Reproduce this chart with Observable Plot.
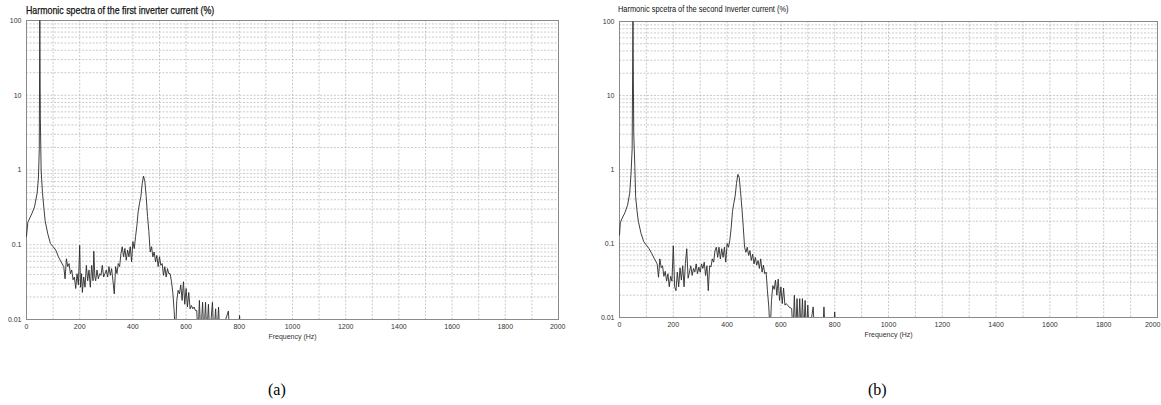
<!DOCTYPE html>
<html><head><meta charset="utf-8">
<script src="https://cdn.jsdelivr.net/npm/d3@7"></script>
<script src="https://cdn.jsdelivr.net/npm/@observablehq/plot@0.6"></script>
<style>
body{margin:0;background:#fff;width:1161px;height:405px;position:relative;overflow:hidden;font-family:"Liberation Sans Narrow","Liberation Sans",Arial,sans-serif;}
.panel{position:absolute;}
.title{position:absolute;white-space:nowrap;color:#111;transform-origin:0 0;}
.cap{position:absolute;font-family:"Liberation Serif","Times New Roman",serif;font-size:16px;color:#000;}
</style></head><body>
<div class="title" style="left:26px;top:4px;font-size:10.5px;transform:scaleX(0.84);-webkit-text-stroke:0.25px #111;">Harmonic spectra of the first inverter current (%)</div>
<div class="title" style="left:618px;top:3px;font-size:9.5px;transform:scaleX(0.78);">Harmonic spcetra of the second Inverter current (%)</div>
<div id="pa" class="panel" style="left:0;top:0"></div>
<div id="pb" class="panel" style="left:590px;top:0"></div>
<div class="cap" style="left:268px;top:381px;">(a)</div>
<div class="cap" style="left:868px;top:381px;">(b)</div>
<script>
const xTicks = [0,200,400,600,800,1000,1200,1400,1600,1800];
const xLastTick = [2000];
const yTicks = [0.01,0.1,1,10,100];
const xLabel = "Frequency (Hz)";

const freqA = [0,5,20,30,40,45,48,50,52,55,60,65,70,80,90,100,110,120,130,140,145,150,155,160,165,170,175,180,185,190,195,200,203,207,210,215,220,225,230,235,240,245,250,253,257,260,265,270,275,280,285,290,295,300,305,310,315,320,325,330,335,340,345,350,355,360,365,370,375,380,385,390,395,400,405,410,415,420,425,430,435,440,445,450,455,460,465,470,475,480,485,490,495,500,505,510,515,520,525,530,535,540,545,550,555,560,565,570,575,580,585,590,595,600,605,610,615,620,625,630,635,640,645,650,655,662,667,673,678,684,689,699,704,711,716,722,727,740,759,764,795,801,806,850];
const ampA = [0.13,0.2,0.26,0.32,0.49,0.8,1.9,100,5,1.0,0.5,0.32,0.21,0.14,0.104,0.094,0.085,0.069,0.059,0.051,0.035,0.065,0.051,0.056,0.041,0.046,0.034,0.037,0.026,0.041,0.029,0.098,0.027,0.041,0.023,0.037,0.027,0.053,0.033,0.046,0.027,0.053,0.033,0.082,0.037,0.033,0.046,0.035,0.041,0.039,0.053,0.037,0.041,0.046,0.037,0.051,0.039,0.048,0.033,0.022,0.051,0.041,0.056,0.051,0.076,0.094,0.069,0.089,0.062,0.085,0.069,0.094,0.059,0.11,0.089,0.128,0.18,0.28,0.36,0.44,0.66,0.83,0.7,0.44,0.24,0.15,0.08,0.094,0.069,0.08,0.059,0.072,0.051,0.069,0.053,0.056,0.039,0.051,0.037,0.048,0.041,0.041,0.032,0.023,0.0132,0.006,0.018,0.0245,0.022,0.029,0.018,0.032,0.016,0.026,0.0147,0.023,0.0139,0.0154,0.0139,0.0147,0.0132,0.0132,0.006,0.018,0.006,0.017,0.006,0.017,0.006,0.016,0.006,0.017,0.006,0.0139,0.006,0.0147,0.006,0.008,0.013,0.006,0.006,0.0113,0.006,0.006];

const freqB = [0,3,10,20,30,38,43,47,50,53,57,60,65,70,80,90,100,110,120,130,140,145,150,155,160,165,170,175,180,185,190,195,200,205,210,215,220,225,230,235,240,245,250,255,260,265,270,275,280,285,290,295,300,305,310,315,320,325,330,335,340,345,350,355,360,365,370,375,380,385,390,395,400,405,410,415,420,425,430,435,440,445,450,455,460,465,470,475,480,485,490,495,500,505,510,515,520,525,530,535,540,545,550,555,560,565,570,575,580,585,590,595,600,605,610,615,620,630,640,645,650,655,660,665,670,675,680,685,690,695,700,705,720,725,755,760,765,795,800,805,850];
const ampB = [0.13,0.19,0.22,0.26,0.33,0.48,0.9,1.9,100,3,1.1,0.43,0.28,0.2,0.137,0.106,0.095,0.085,0.073,0.062,0.053,0.035,0.062,0.047,0.05,0.036,0.042,0.031,0.039,0.026,0.036,0.031,0.093,0.026,0.023,0.041,0.026,0.047,0.032,0.05,0.026,0.054,0.085,0.034,0.041,0.05,0.037,0.046,0.041,0.053,0.039,0.048,0.041,0.053,0.046,0.056,0.037,0.05,0.023,0.05,0.048,0.062,0.056,0.08,0.089,0.065,0.089,0.062,0.085,0.065,0.089,0.056,0.1,0.089,0.11,0.16,0.27,0.35,0.44,0.65,0.86,0.78,0.5,0.3,0.17,0.089,0.076,0.089,0.069,0.08,0.059,0.072,0.053,0.065,0.051,0.059,0.046,0.062,0.041,0.051,0.039,0.041,0.023,0.0139,0.006,0.017,0.027,0.024,0.032,0.02,0.033,0.017,0.026,0.0154,0.025,0.0147,0.0154,0.0139,0.0132,0.006,0.02,0.006,0.018,0.006,0.018,0.006,0.018,0.006,0.017,0.006,0.0147,0.006,0.0139,0.006,0.006,0.0139,0.006,0.006,0.0119,0.006,0.006];

const xGrid = d3.range(0, 2001, 100);
const yGrid = [];
for (const dec of [0.01,0.1,1,10]) for (let k = 1; k <= 9; k++) yGrid.push(+(dec*k).toPrecision(3));
yGrid.push(100);

function chart(freq, amp, opts) {
  const data = freq.map((f, i) => ({f, v: amp[i]}));
  return Plot.plot({
    width: opts.width, height: opts.height,
    marginLeft: opts.ml, marginRight: opts.mr, marginTop: opts.mt, marginBottom: opts.mb,
    style: {fontFamily: '"Liberation Sans Narrow","Liberation Sans",Arial,sans-serif', fontSize: "7px", color: "#333", background: "transparent", overflow: "visible"},
    x: {domain: [0, 2000]},
    y: {type: "log", domain: [0.01, 100]},
    marks: [
      Plot.ruleX(xGrid, {stroke: "#b4b4b4", strokeWidth: 0.7, strokeDasharray: "2,1.5"}),
      Plot.ruleY(yGrid, {stroke: "#b4b4b4", strokeWidth: 0.7, strokeDasharray: "2,1.5"}),
      Plot.frame({stroke: "#8a8a8a", strokeWidth: 1}),
      Plot.line(data, {x: "f", y: "v", stroke: "#2a2a2a", strokeWidth: 0.9, clip: true}),
      Plot.axisX({ticks: xTicks, tickSize: 0, tickPadding: 5, label: null, tickFormat: d => String(d)}),
      Plot.axisX({ticks: xLastTick, tickSize: 0, tickPadding: 5, label: null, tickFormat: d => String(d), textAnchor: "end", dx: opts.lastDx}),
      Plot.axisY({ticks: yTicks, tickSize: 0, tickPadding: 5, label: null, tickFormat: d => String(d)}),
      Plot.text([xLabel], {frameAnchor: "bottom", dy: 19, fontSize: 7, fill: "#333"})
    ]
  });
}

document.getElementById("pa").append(chart(freqA, ampA, {width: 580, height: 345, ml: 26, mr: 22, mt: 20, mb: 26, lastDx: 7}));
document.getElementById("pb").append(chart(freqB, ampB, {width: 571, height: 343, ml: 29, mr: 4, mt: 21, mb: 26, lastDx: 3}));
</script>
</body></html>
